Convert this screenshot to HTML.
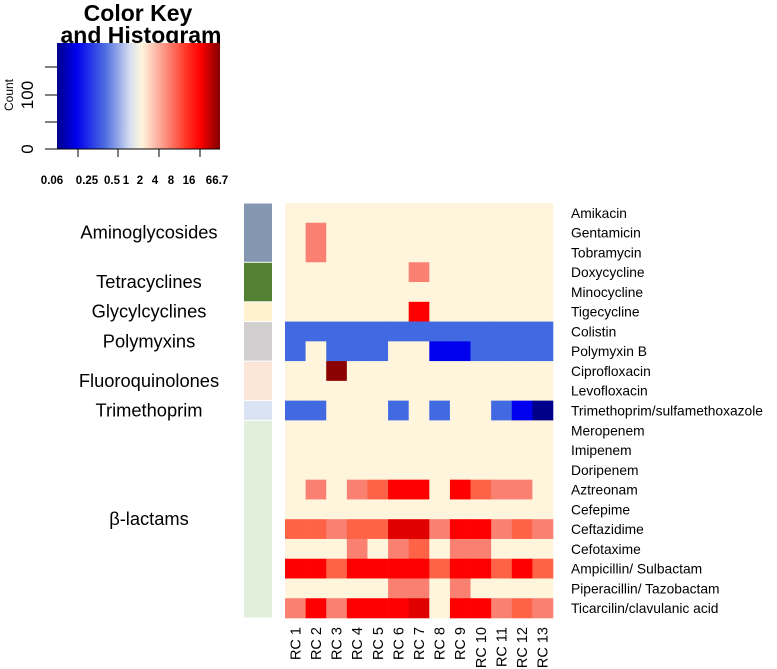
<!DOCTYPE html>
<html><head><meta charset="utf-8"><style>
body{margin:0;background:#fff;width:777px;height:669px;overflow:hidden}
svg{display:block;font-family:"Liberation Sans",sans-serif}
</style></head><body>
<svg id="chart" width="777" height="669" xmlns="http://www.w3.org/2000/svg">
<defs>
<linearGradient id="kg" x1="0" x2="1" y1="0" y2="0">
<stop offset="0" stop-color="#00008B"/><stop offset="0.12" stop-color="#0000EE"/><stop offset="0.3" stop-color="#5070E0"/><stop offset="0.45" stop-color="#D8DFF0"/><stop offset="0.52" stop-color="#FFF5DC"/><stop offset="0.62" stop-color="#FCB0A0"/><stop offset="0.8" stop-color="#FF3020"/><stop offset="0.88" stop-color="#FF0000"/><stop offset="1" stop-color="#800000"/>
</linearGradient>
</defs>
<g>
<text x="138" y="21" font-size="23" font-weight="bold" text-anchor="middle">Color Key</text>
<text x="141" y="43" font-size="23" font-weight="bold" text-anchor="middle">and Histogram</text>
<rect x="57" y="43" width="163" height="106" fill="url(#kg)"/>
<line x1="45" y1="149" x2="220" y2="149" stroke="#000"/>
<line x1="45" y1="67" x2="57" y2="67" stroke="#000"/><line x1="45" y1="95" x2="57" y2="95" stroke="#000"/><line x1="45" y1="122" x2="57" y2="122" stroke="#000"/>
<text x="27" y="149" font-size="17" text-anchor="middle" transform="rotate(-90 27 149)" dy="6">0</text>
<text x="27" y="95" font-size="17" text-anchor="middle" transform="rotate(-90 27 95)" dy="6">100</text>
<text x="9" y="95" font-size="12" text-anchor="middle" transform="rotate(-90 9 95)" dy="4">Count</text>
<line x1="78" y1="149" x2="78" y2="157" stroke="#000"/><line x1="118" y1="149" x2="118" y2="157" stroke="#000"/><line x1="159" y1="149" x2="159" y2="157" stroke="#000"/><line x1="200" y1="149" x2="200" y2="157" stroke="#000"/>
<g font-size="11.5" font-weight="bold" text-anchor="middle">
<text x="52" y="184">0.06</text><text x="87" y="184">0.25</text><text x="112" y="184">0.5</text><text x="126" y="184">1</text><text x="140" y="184">2</text><text x="155" y="184">4</text><text x="171" y="184">8</text><text x="189" y="184">16</text><text x="217" y="184">66.7</text>
</g>
</g>
<g id="sidebar"></g>
<g id="cells"></g>
<g id="rowlabels"></g>
<g id="collabels"></g>
<g id="grouplabels"></g>
</svg>
<script>
const drugs=["Amikacin","Gentamicin","Tobramycin","Doxycycline","Minocycline","Tigecycline","Colistin","Polymyxin B","Ciprofloxacin","Levofloxacin","Trimethoprim/sulfamethoxazole","Meropenem","Imipenem","Doripenem","Aztreonam","Cefepime","Ceftazidime","Cefotaxime","Ampicillin/ Sulbactam","Piperacillin/ Tazobactam","Ticarcilin/clavulanic acid"];
const isolates=["RC 1","RC 2","RC 3","RC 4","RC 5","RC 6","RC 7","RC 8","RC 9","RC 10","RC 11","RC 12","RC 13"];
const groups=["Aminoglycosides","Tetracyclines","Glycylcyclines","Polymyxins","Fluoroquinolones","Trimethoprim","β-lactams"];
const groupSizes=[3,2,1,2,2,1,10];
const groupColors=["#8497B0","#548235","#FFF2CC","#D0CECE","#FBE5D6","#DAE3F3","#E2EFDA"];
const values=[
[0,0,0,0,0,0,0,0,0,0,0,0,0],
[0,1,0,0,0,0,0,0,0,0,0,0,0],
[0,1,0,0,0,0,0,0,0,0,0,0,0],
[0,0,0,0,0,0,1,0,0,0,0,0,0],
[0,0,0,0,0,0,0,0,0,0,0,0,0],
[0,0,0,0,0,0,3,0,0,0,0,0,0],
[-1,-1,-1,-1,-1,-1,-1,-1,-1,-1,-1,-1,-1],
[-1,0,-1,-1,-1,0,0,-2,-2,-1,-1,-1,-1],
[0,0,5,0,0,0,0,0,0,0,0,0,0],
[0,0,0,0,0,0,0,0,0,0,0,0,0],
[-1,-1,0,0,0,-1,0,-1,0,0,-1,-2,-3],
[0,0,0,0,0,0,0,0,0,0,0,0,0],
[0,0,0,0,0,0,0,0,0,0,0,0,0],
[0,0,0,0,0,0,0,0,0,0,0,0,0],
[0,1,0,1,2,3,3,0,3,2,1,1,0],
[0,0,0,0,0,0,0,0,0,0,0,0,0],
[2,2,1,2,2,4,4,1,3,3,1,2,1],
[0,0,0,1,0,1,2,0,1,1,0,0,0],
[3,3,2,3,3,3,3,2,3,3,2,3,2],
[0,0,0,0,0,1,1,0,1,0,0,0,0],
[1,3,1,3,3,3,4,0,3,3,1,2,1]];
const palette={"-3":"#00008B","-2":"#0000EE","-1":"#4169E1","0":"#FFF5DC","1":"#FA8072","2":"#FF6347","3":"#FF0000","4":"#E00000","5":"#8B0000"};
const X0=285,X1=553,Y0=203,Y1=618;
const cw=(X1-X0)/isolates.length, rh=(Y1-Y0)/drugs.length;
const xs=i=>X0+i*cw, ys=j=>Y0+j*rh;
const NS="http://www.w3.org/2000/svg";
function mk(t,a,p){const e=document.createElementNS(NS,t);for(const k in a)e.setAttribute(k,a[k]);document.getElementById(p).appendChild(e);return e;}
values.forEach((row,j)=>row.forEach((v,i)=>{
const r=mk("rect",{x:xs(i),y:ys(j),width:cw+0.3,height:rh+0.3,fill:palette[v]},"cells");


}));
drugs.forEach((d,j)=>{
const t=mk("text",{x:571,y:ys(j)+rh/2+5,"font-size":13.8},"rowlabels");t.textContent=d;


});
isolates.forEach((c,i)=>{
const cx=xs(i)+cw/2+5,y=627;
const t=mk("text",{x:cx,y:y,"font-size":14.5,"text-anchor":"end",transform:`rotate(-90 ${cx} ${y})`},"collabels");t.textContent=c;


});
let start=0;
groups.forEach((g,k)=>{
const y=ys(start),h=groupSizes[k]*rh;
const r=mk("rect",{x:244,y:y+0.5,width:28,height:h-1,fill:groupColors[k]},"sidebar");


const t=mk("text",{x:149,y:y+h/2+6,"font-size":18.3,"text-anchor":"middle"},"grouplabels");t.textContent=g;


start+=groupSizes[k];
});
</script>
</body></html>
